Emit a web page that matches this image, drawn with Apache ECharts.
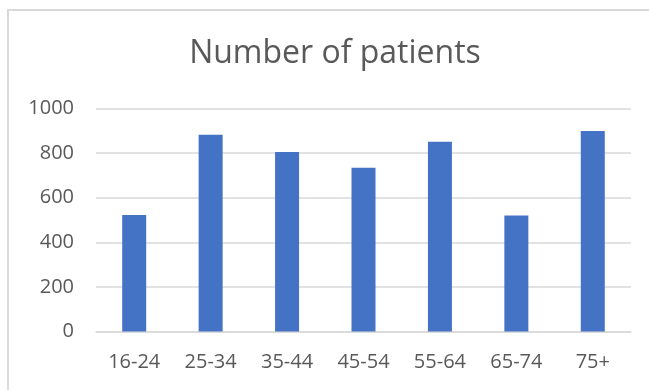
<!DOCTYPE html>
<html>
<head>
<meta charset="utf-8">
<script src="https://cdn.jsdelivr.net/npm/echarts@6/dist/echarts.min.js"></script>
<style>
  html, body { margin: 0; padding: 0; background: #ffffff; }
  #chart { width: 649px; height: 390px; }
</style>
</head>
<body>
<div id="chart"></div>
<script>
// Age groups and patient counts
const ageGroups = ['16-24', '25-34', '35-44', '45-54', '55-64', '65-74', '75+'];
const patientCounts = [522, 882, 805, 734, 851, 520, 899];
const yTicks = [0, 200, 400, 600, 800, 1000];

const textColor = '#595959';
const gridColor = '#d9d9d9';
const fontFamily = '"Open Sans", "Liberation Sans", sans-serif';

const chart = echarts.init(document.getElementById('chart'), null, { renderer: 'canvas' });

chart.setOption({
  animation: false,
  backgroundColor: '#ffffff',
  title: {
    text: 'Number of patients',
    left: 330,
    textAlign: 'center',
    top: 33,
    textStyle: {
      color: textColor,
      fontFamily: fontFamily,
      fontSize: 32,
      fontWeight: 'normal'
    }
  },
  graphic: [{
    type: 'rect',
    shape: { x: 8, y: 10, width: 700, height: 420 },
    style: { fill: 'none', stroke: gridColor, lineWidth: 2 },
    silent: true
  }],
  grid: {
    left: 96,
    right: 18,
    top: 108.5,
    bottom: 58.5
  },
  xAxis: {
    type: 'category',
    data: ageGroups,
    axisLine: { show: true, lineStyle: { color: gridColor, width: 1.5 } },
    axisTick: { show: false },
    axisLabel: {
      color: textColor,
      fontFamily: fontFamily,
      fontSize: 20,
      margin: 21
    }
  },
  yAxis: {
    type: 'value',
    min: yTicks[0],
    max: yTicks[yTicks.length - 1],
    interval: yTicks[1] - yTicks[0],
    axisLine: { show: false },
    axisTick: { show: false },
    splitLine: { lineStyle: { color: gridColor, width: 1.5 } },
    axisLabel: {
      color: textColor,
      fontFamily: fontFamily,
      fontSize: 20,
      margin: 22,
      formatter: (v) => String(v)
    }
  },
  series: [{
    type: 'bar',
    data: patientCounts,
    barWidth: 24,
    itemStyle: { color: '#4472c4' }
  }]
});
</script>
</body>
</html>
